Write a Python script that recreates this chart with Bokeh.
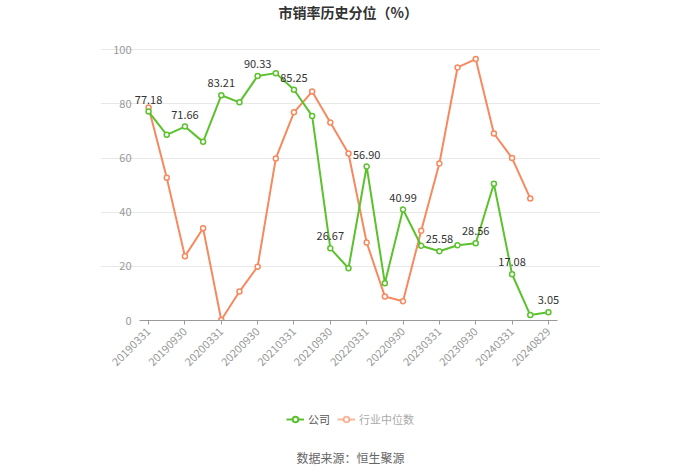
import math
from bokeh.plotting import figure
from bokeh.layouts import column
from bokeh.models import FixedTicker, Legend, LegendItem, ColumnDataSource, Range1d
from bokeh.core.properties import value
from bokeh.embed import file_html
from bokeh.resources import INLINE

dates = ["20190331", "20190630", "20190930", "20191231",
         "20200331", "20200630", "20200930", "20201231",
         "20210331", "20210630", "20210930", "20211231",
         "20220331", "20220630", "20220930", "20221231",
         "20230331", "20230630", "20230930", "20231231",
         "20240331", "20240630", "20240829"]
company = [77.18, 68.6, 71.66, 66.0, 83.21, 80.6, 90.33, 91.4, 85.25, 75.6, 26.67, 19.3,
           56.90, 13.8, 40.99, 27.6, 25.58, 27.8, 28.56, 50.5, 17.08, 2.0, 3.05]
industry = [78.7, 52.7, 23.7, 34.1, 0.2, 10.7, 19.9, 59.9, 76.9, 84.6, 73.2, 61.7,
            28.8, 8.9, 7.1, 33.2, 58.0, 93.5, 96.6, 69.1, 60.0, 45.1, float("nan")]
y_ticks = [0, 20, 40, 60, 80, 100]
title_text = "市销率历史分位（%）"
source_text = "数据来源：恒生聚源"
series_names = ["公司", "行业中位数"]

FONT = "Noto Sans CJK SC"
GREEN = "#5BC22E"
ORANGE = "#F7895E"

xs = list(range(len(dates)))
n = len(dates)

# ---- title strip ----
p0 = figure(width=700, height=26, output_backend="svg", toolbar_location=None,
            x_range=Range1d(0, 700), y_range=Range1d(0, 26),
            x_axis_type=None, y_axis_type=None, min_border=0)
p0.outline_line_color = None
p0.text(x=[347], y=[15], text=[title_text], text_align="center", text_baseline="middle",
        text_font=value(FONT), text_font_size="14px", text_font_style="bold", text_color="#333333")

# ---- main chart ----
p = figure(width=700, height=364, output_backend="svg", toolbar_location=None,
           x_range=Range1d(-2.645, n - 1 + 2.865), y_range=Range1d(0, 100.5),
           min_border_left=100, min_border_right=100, min_border_top=22, min_border_bottom=70)
p.outline_line_color = None
p.background_fill_color = "white"
p.border_fill_color = "white"

p.xaxis.ticker = FixedTicker(ticks=[i for i in xs if i % 2 == 0])
p.xaxis.major_label_overrides = {i: dates[i] for i in xs if i % 2 == 0}
p.xaxis.major_label_orientation = math.pi / 4
p.xaxis.bounds = (-0.5, n - 0.5)
p.xaxis.axis_line_color = "#999999"
p.xaxis.major_tick_line_color = "#999999"
p.xaxis.major_tick_in = 0
p.xaxis.major_tick_out = 4
p.xaxis.minor_tick_line_color = None
p.xaxis.major_label_text_color = "#999999"
p.xaxis.major_label_text_font = FONT
p.xaxis.major_label_text_font_size = "11px"
p.xgrid.grid_line_color = None

p.yaxis.ticker = FixedTicker(ticks=y_ticks)
p.yaxis.axis_line_color = None
p.yaxis.major_tick_line_color = None
p.yaxis.minor_tick_line_color = None
p.yaxis.major_label_text_color = "#999999"
p.yaxis.major_label_text_font = FONT
p.yaxis.major_label_text_font_size = "11px"
p.yaxis.major_label_standoff = -37
p.ygrid.grid_line_color = "#E8E8E8"
p.ygrid.bounds = (-0.5, n - 0.5)

ind_src = ColumnDataSource(dict(x=xs, y=industry))
com_src = ColumnDataSource(dict(x=xs, y=company))

p.line("x", "y", source=ind_src, line_color=ORANGE, line_width=2)
p.scatter("x", "y", source=ind_src, size=5, fill_color="white", line_color=ORANGE, line_width=1.5)
p.line("x", "y", source=com_src, line_color=GREEN, line_width=2)
p.scatter("x", "y", source=com_src, size=5, fill_color="white", line_color=GREEN, line_width=1.5)

lab_x = [i for i in xs if i % 2 == 0]
lab_y = [company[i] for i in lab_x]
lab_t = ["%.2f" % company[i] for i in lab_x]
p.text(x=lab_x, y=lab_y, text=lab_t, text_align="center", text_baseline="middle",
       y_offset=-12, text_font=value(FONT), text_font_size="11px", text_color="#333333")

# ---- legend + source strip ----
p2 = figure(width=700, height=84, output_backend="svg", toolbar_location=None,
            x_range=Range1d(0, 700), y_range=Range1d(0, 84),
            x_axis_type=None, y_axis_type=None, min_border=0)
p2.outline_line_color = None
far = [-100.0, -90.0]
gl = p2.line(x=far, y=far, line_color=GREEN, line_width=2)
gs = p2.scatter(x=far, y=far, size=9, fill_color="white", line_color=GREEN, line_width=2)
ol = p2.line(x=far, y=far, line_color=ORANGE, line_width=2, line_alpha=0.6)
os_ = p2.scatter(x=far, y=far, size=9, fill_color="white", line_color=ORANGE, line_width=2, line_alpha=0.6)
leg1 = Legend(items=[LegendItem(label=series_names[0], renderers=[gl, gs])],
              location=(186, 47), orientation="horizontal",
              label_text_font=FONT, label_text_font_size="11px", label_text_color="#555555",
              border_line_color=None, background_fill_alpha=0, glyph_width=18, glyph_height=14,
              label_standoff=4, padding=2, margin=0)
leg2 = Legend(items=[LegendItem(label=series_names[1], renderers=[ol, os_])],
              location=(237, 47), orientation="horizontal",
              label_text_font=FONT, label_text_font_size="11px", label_text_color="#AAAAAA",
              border_line_color=None, background_fill_alpha=0, glyph_width=18, glyph_height=14,
              label_standoff=4, padding=2, margin=0)
p2.add_layout(leg1, "center")
p2.add_layout(leg2, "center")
p2.text(x=[350], y=[17], text=[source_text], text_align="center", text_baseline="middle",
        text_font=value(FONT), text_font_size="12px", text_color="#666666")

open("out.html", "w").write(file_html(column(p0, p, p2, spacing=0), INLINE))
